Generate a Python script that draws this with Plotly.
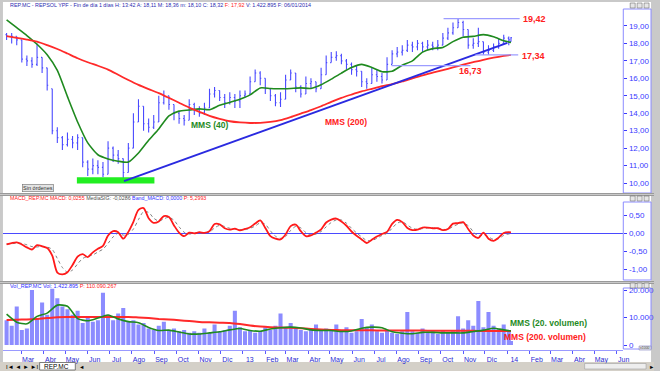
import plotly.graph_objects as go
import pandas as pd

W, H = 660, 371

# ---------------- data ----------------
week_dates = list(pd.date_range('2012-02-10', periods=100, freq='7D').strftime('%Y-%m-%d')) + ['2014-01-06']
ma_dates = list(pd.date_range('2012-02-10', periods=50, freq='14D').strftime('%Y-%m-%d')) + ['2014-01-06']

price_open = [18.5, 18.4, 18.4, 18.2, 17.1, 17.0, 16.8, 17.2, 16.6, 15.4,
              13.0, 12.6, 12.2, 12.5, 12.3, 12.6, 11.2, 10.8, 11.0, 10.9,
              10.5, 12.0, 11.6, 11.4, 10.6, 12.0, 13.5, 14.4, 13.4, 13.2,
              13.5, 14.6, 15.0, 14.5, 14.0, 13.7, 13.6, 14.5, 14.2, 14.0,
              14.3, 15.1, 15.3, 14.9, 14.6, 14.9, 14.7, 15.0, 15.1, 15.8,
              16.3, 16.0, 15.4, 15.0, 14.6, 14.8, 15.9, 16.3, 15.5, 15.1,
              15.7, 15.8, 15.4, 16.2, 16.9, 17.2, 17.3, 17.0, 16.8, 16.5,
              16.4, 15.8, 15.7, 16.2, 16.1, 15.9, 16.8, 17.4, 17.5, 17.6,
              17.9, 17.8, 18.0, 17.8, 17.9, 17.8, 17.9, 18.3, 18.6, 18.9,
              19.2, 18.8, 17.9, 18.0, 18.1, 17.5, 17.6, 17.8, 18.0, 18.3,
              18.11]
price_high = [18.6, 18.6, 18.4, 18.2, 17.3, 17.2, 18.0, 17.2, 16.6, 15.4,
              13.2, 12.7, 12.9, 12.7, 12.8, 12.6, 11.3, 11.4, 11.3, 11.2,
              12.4, 12.1, 11.9, 11.4, 12.3, 14.0, 14.8, 14.4, 13.7, 13.9,
              15.0, 15.3, 15.0, 14.5, 14.1, 13.9, 14.8, 14.6, 14.4, 14.6,
              15.4, 15.5, 15.3, 15.1, 15.2, 15.1, 15.3, 15.3, 16.1, 16.5,
              16.4, 16.0, 15.4, 15.1, 15.2, 16.2, 16.5, 16.3, 15.6, 16.1,
              16.0, 15.8, 16.6, 17.3, 17.5, 17.55, 17.4, 17.1, 16.9, 16.7,
              16.4, 16.0, 16.6, 16.5, 16.3, 17.2, 17.6, 17.8, 17.9, 18.2,
              18.1, 18.2, 18.1, 18.2, 18.1, 18.2, 18.6, 18.9, 19.2, 19.42,
              19.3, 18.8, 18.3, 18.9, 18.1, 17.9, 18.0, 18.3, 18.5, 18.4,
              18.36]
price_low = [18.2, 18.0, 17.9, 16.9, 16.7, 16.6, 16.7, 16.3, 15.3, 12.8,
             12.3, 11.9, 12.1, 12.0, 11.9, 10.9, 10.4, 10.5, 10.5, 10.35,
             10.5, 11.2, 11.1, 10.05, 10.6, 12.0, 13.5, 13.0, 12.9, 13.1,
             13.5, 14.5, 14.2, 13.6, 13.4, 13.3, 13.6, 13.9, 13.8, 13.9,
             14.3, 14.9, 14.7, 14.3, 14.5, 14.3, 14.3, 14.9, 15.1, 15.8,
             15.6, 15.1, 14.7, 14.4, 14.35, 14.8, 15.9, 15.2, 14.9, 15.1,
             15.4, 15.2, 15.4, 16.2, 16.9, 17.0, 16.8, 16.5, 16.2, 16.1,
             15.5, 15.4, 15.7, 15.8, 15.7, 15.9, 16.8, 17.2, 17.3, 17.5,
             17.5, 17.6, 17.5, 17.6, 17.6, 17.6, 17.9, 18.2, 18.5, 18.9,
             18.4, 17.7, 17.7, 17.8, 17.35, 17.35, 17.5, 17.7, 18.0, 17.9,
             18.10]
price_close = [18.4, 18.4, 18.2, 17.1, 17.0, 16.8, 17.2, 16.6, 15.6, 13.0,
               12.6, 12.2, 12.5, 12.3, 12.6, 11.2, 10.8, 11.0, 10.9, 10.5,
               12.0, 11.6, 11.4, 10.6, 12.0, 13.5, 14.4, 13.4, 13.2, 13.5,
               14.6, 15.0, 14.5, 14.0, 13.7, 13.6, 14.5, 14.2, 14.0, 14.3,
               15.1, 15.3, 14.9, 14.6, 14.9, 14.7, 15.0, 15.1, 15.8, 16.3,
               16.0, 15.4, 15.0, 14.6, 14.8, 15.9, 16.3, 15.5, 15.1, 15.7,
               15.8, 15.4, 16.2, 16.9, 17.2, 17.3, 17.0, 16.8, 16.5, 16.4,
               15.8, 15.7, 16.2, 16.1, 15.9, 16.8, 17.4, 17.5, 17.6, 17.9,
               17.8, 18.0, 17.8, 17.9, 17.8, 17.9, 18.3, 18.6, 18.9, 19.2,
               18.8, 17.9, 18.0, 18.1, 17.5, 17.6, 17.8, 18.0, 18.3, 18.2,
               18.32]

mms200 = [18.42, 18.32, 18.22, 18.10, 17.90, 17.68, 17.42, 17.15, 16.92, 16.72,
          16.50, 16.20, 15.90, 15.62, 15.38, 15.15, 14.88, 14.60, 14.32, 14.08,
          13.85, 13.68, 13.54, 13.47, 13.44, 13.45, 13.50, 13.60, 13.78, 13.98,
          14.18, 14.40, 14.65, 14.88, 15.07, 15.25, 15.40, 15.55, 15.67, 15.82,
          16.00, 16.17, 16.32, 16.47, 16.62, 16.78, 16.92, 17.06, 17.18, 17.28,
          17.34]
mms40 = [19.35, 18.90, 18.45, 17.95, 17.35, 16.45, 14.95, 13.50, 12.30, 11.62,
         11.38, 11.25, 11.20, 11.72, 12.45, 13.10, 13.85, 14.12, 14.18, 14.25,
         14.20, 14.45, 14.62, 14.80, 15.05, 15.45, 15.42, 15.40, 15.42, 15.45,
         15.42, 15.63, 15.95, 16.30, 16.62, 16.80, 16.62, 16.38, 16.40, 16.75,
         17.00, 17.50, 17.70, 17.77, 18.10, 18.35, 18.40, 18.50, 18.38, 18.15,
         18.05]

macd = [-0.31, -0.27, -0.25, -0.31, -0.39, -0.45, -0.33, -0.36, -0.41, -0.62,
        -1.09, -1.14, -1.08, -0.88, -0.65, -0.58, -0.66, -0.53, -0.43, -0.35,
        -0.06, 0.06, 0.03, -0.15, 0.04, 0.32, 0.65, 0.70, 0.42, 0.29,
        0.33, 0.48, 0.45, 0.22, 0.02, -0.08, 0.02, 0.00, 0.03, 0.01,
        0.06, 0.26, 0.25, 0.14, 0.10, 0.13, 0.08, 0.12, 0.17, 0.27,
        0.36, 0.15, -0.08, -0.15, -0.17, -0.03, 0.20, 0.24, 0.06, -0.08,
        -0.06, 0.02, 0.11, 0.30, 0.38, 0.41, 0.33, 0.21, 0.05, -0.07,
        -0.17, -0.27, -0.18, -0.09, -0.02, 0.04, 0.26, 0.37, 0.31, 0.15,
        0.09, 0.10, 0.16, 0.16, 0.14, 0.14, 0.09, 0.12, 0.27, 0.28,
        0.31, 0.12, -0.06, -0.13, 0.02, -0.15, -0.21, -0.12, 0.01, 0.03,
        0.0255]
macd_signal = [-0.30, -0.29, -0.27, -0.28, -0.32, -0.37, -0.38, -0.36, -0.38, -0.45,
               -0.70, -0.95, -1.08, -1.02, -0.85, -0.70, -0.64, -0.60, -0.52, -0.44,
               -0.28, -0.10, 0.00, -0.05, -0.03, 0.12, 0.38, 0.60, 0.58, 0.42,
               0.34, 0.40, 0.45, 0.36, 0.18, 0.03, -0.02, 0.00, 0.01, 0.02,
               0.03, 0.15, 0.22, 0.19, 0.14, 0.12, 0.10, 0.10, 0.14, 0.20,
               0.29, 0.25, 0.07, -0.08, -0.14, -0.09, 0.08, 0.19, 0.15, 0.02,
               -0.05, -0.02, 0.05, 0.18, 0.30, 0.37, 0.37, 0.28, 0.14, 0.01,
               -0.10, -0.20, -0.20, -0.14, -0.06, 0.00, 0.14, 0.28, 0.32, 0.23,
               0.14, 0.11, 0.13, 0.15, 0.15, 0.14, 0.11, 0.11, 0.19, 0.25,
               0.29, 0.21, 0.05, -0.08, -0.04, -0.10, -0.17, -0.15, -0.06, -0.02,
               -0.0286]

volume = [9000, 7000, 14000, 5500, 6000, 20000, 9500, 15500, 11000, 20500,
          17000, 14000, 13000, 11000, 12500, 8000, 10000, 8500, 9000, 19000,
          11000, 9000, 11500, 13500, 8500, 9000, 7500, 8000, 6000, 5500,
          7000, 8500, 5500, 6000, 5000, 5500, 4500, 5000, 4500, 6000,
          4500, 7500, 5000, 5500, 7000, 12500, 6500, 5000, 5500, 4500,
          5000, 6500, 5500, 7000, 11500, 6500, 8000, 6000, 5500, 5000,
          6000, 7500, 5500, 6000, 5500, 7500, 5000, 6500, 4500, 5000,
          9500, 6500, 7500, 5000, 4500, 5500, 4500, 4000, 5000, 12000,
          5000, 4500, 6000, 4500, 5000, 4000, 5500, 4500, 5000, 10500,
          6000, 9000, 7000, 16000, 6500, 12000, 7000, 6000, 7500, 5000,
          1423]
vol_mms20 = [11200, 8300, 7700, 10400, 11600, 14500, 14100, 9600, 8800, 9800,
             10900, 9500, 8500, 8100, 6400, 5300, 5400, 4700, 4000, 4000,
             4400, 4800, 5500, 6000, 5300, 5000, 5800, 6300, 6500, 6200,
             5500, 5300, 5300, 4900, 5100, 6100, 6500, 6300, 4800, 4300,
             4100, 4600, 4600, 4400, 4400, 4400, 4900, 5400, 6100, 5500,
             5100]
vol_mms200 = [9100, 9200, 9300, 9500, 9800, 10100, 10200, 10200, 10200, 10200,
              10200, 10200, 10200, 10000, 9800, 9500, 9300, 9000, 8700, 8400,
              8250, 8100, 8000, 7600, 7100, 6700, 6450, 6350, 6250, 6100,
              5850, 5600, 5450, 5400, 5380, 5350, 5330, 5300, 5300, 5280,
              5250, 5230, 5200, 5200, 5180, 5150, 5150, 5120, 5100, 5100,
              5100]

month_ticks = list(pd.date_range('2012-03-01', '2014-06-01', freq='MS').strftime('%Y-%m-%d'))
month_labels = ['Mar', 'Abr', 'May', 'Jun', 'Jul', 'Ago', 'Sep', 'Oct', 'Nov', 'Dic',
                '13', 'Feb', 'Mar', 'Abr', 'May', 'Jun', 'Jul', 'Ago', 'Sep', 'Oct',
                'Nov', 'Dic', '14', 'Feb', 'Mar', 'Abr', 'May', 'Jun']

price_ticks = [10, 11, 12, 13, 14, 15, 16, 17, 18, 19]
price_tick_labels = ['10,00', '11,00', '12,00', '13,00', '14,00', '15,00', '16,00', '17,00', '18,00', '19,00']
macd_ticks = [0.5, 0.0, -0.5, -1.0]
macd_tick_labels = ['0,50', '0,00', '-0,50', '-1,00']
vol_ticks = [0, 10000, 20000]
vol_tick_labels = ['0', '10.000', '20.000']

# ---------------- layout helpers (pixel -> paper) ----------------
def PX(x):
    return x / W

def PY(y):
    return 1 - y / H

FONT = 'Liberation Sans'
BLUE_TXT = '#3a3aff'
x_range = ['2012-02-05', '2014-06-10']
WEEK_MS = 7 * 24 * 3600 * 1000

fig = go.Figure()

# price panel
fig.add_trace(go.Ohlc(x=week_dates, open=price_open, high=price_high, low=price_low, close=price_close,
                      increasing=dict(line=dict(color='#4a4aff', width=1.1)),
                      decreasing=dict(line=dict(color='#4a4aff', width=1.1)),
                      tickwidth=0.5, xaxis='x', yaxis='y', hoverinfo='skip', showlegend=False))
fig.add_trace(go.Scatter(x=ma_dates, y=mms40, mode='lines', line=dict(color='#1f8a1f', width=1.6, shape='spline', smoothing=0.6),
                         xaxis='x', yaxis='y', showlegend=False, hoverinfo='skip'))
fig.add_trace(go.Scatter(x=ma_dates, y=mms200, mode='lines', line=dict(color='#ff2a2a', width=1.8, shape='spline', smoothing=0.6),
                         xaxis='x', yaxis='y', showlegend=False, hoverinfo='skip'))

# MACD panel
fig.add_trace(go.Scatter(x=week_dates, y=macd_signal, mode='lines', line=dict(color='#808080', width=1, dash='dot', shape='spline', smoothing=0.8),
                         xaxis='x2', yaxis='y2', showlegend=False, hoverinfo='skip'))
fig.add_trace(go.Scatter(x=week_dates, y=macd, mode='lines', line=dict(color='#ff1a1a', width=1.8, shape='spline', smoothing=0.8),
                         xaxis='x2', yaxis='y2', showlegend=False, hoverinfo='skip'))

# Volume panel
fig.add_trace(go.Bar(x=week_dates, y=volume, width=[WEEK_MS * 0.8] * len(week_dates),
                     marker=dict(color='#8c8cff', line=dict(width=0)),
                     xaxis='x3', yaxis='y3', showlegend=False, hoverinfo='skip'))
fig.add_trace(go.Scatter(x=ma_dates, y=vol_mms200, mode='lines', line=dict(color='#ff2a2a', width=2, shape='spline', smoothing=0.6),
                         xaxis='x3', yaxis='y3', showlegend=False, hoverinfo='skip'))
fig.add_trace(go.Scatter(x=ma_dates, y=vol_mms20, mode='lines', line=dict(color='#1f8a1f', width=1.6, shape='spline', smoothing=0.6),
                         xaxis='x3', yaxis='y3', showlegend=False, hoverinfo='skip'))

xdom = [PX(3), PX(629)]
common_x = dict(type='date', range=x_range, domain=xdom, showgrid=False, zeroline=False, fixedrange=True)
ytick_font = dict(family=FONT, size=8, color=BLUE_TXT)

fig.update_layout(
    width=W, height=H,
    margin=dict(l=0, r=0, t=0, b=0),
    paper_bgcolor='#c9c9c9',
    plot_bgcolor='white',
    xaxis=dict(**common_x, anchor='y', showticklabels=False, ticks='', rangeslider=dict(visible=False)),
    xaxis2=dict(**common_x, anchor='y2', matches='x', showticklabels=False, ticks=''),
    xaxis3=dict(**common_x, anchor='y3', matches='x', showticklabels=True, tickmode='array',
                tickvals=month_ticks, ticktext=month_labels, ticks='outside', ticklen=3, tickcolor='#5a5aff',
                tickfont=dict(family=FONT, size=7, color='#2a2ad0'), ticklabelshift=7, ticklabelstandoff=0,
                showline=True, linecolor='#9a9aff', linewidth=1),
    yaxis=dict(domain=[PY(193), PY(9)], range=[9.43, 19.97], side='right', anchor='x', showgrid=False, zeroline=False,
               tickmode='array', tickvals=price_ticks, ticktext=price_tick_labels, ticks='outside', ticklen=3,
               tickcolor=BLUE_TXT, tickfont=ytick_font, fixedrange=True),
    yaxis2=dict(domain=[PY(281), PY(196)], range=[-1.325, 1.036], side='right', anchor='x2', showgrid=False,
                zeroline=True, zerolinecolor='#4a4aff', zerolinewidth=1,
                tickmode='array', tickvals=macd_ticks, ticktext=macd_tick_labels, ticks='outside', ticklen=3,
                tickcolor=BLUE_TXT, tickfont=ytick_font, fixedrange=True),
    yaxis3=dict(domain=[PY(350), PY(284)], range=[-1818, 22182], side='right', anchor='x3', showgrid=False, zeroline=False,
                tickmode='array', tickvals=vol_ticks, ticktext=vol_tick_labels, ticks='outside', ticklen=3,
                tickcolor=BLUE_TXT, tickfont=ytick_font, fixedrange=True),
)

shapes = []
# white panel backgrounds
for (y0, y1) in [(2, 193), (196, 281), (283, 350), (350, 362)]:
    shapes.append(dict(type='rect', xref='paper', yref='paper', x0=PX(3), x1=PX(657), y0=PY(y1), y1=PY(y0),
                       fillcolor='white', line=dict(width=0), layer='below'))
# bottom tab bar (under everything)
shapes.append(dict(type='rect', xref='paper', yref='paper', x0=0, x1=1, y0=0, y1=PY(362),
                   fillcolor='#d4d0c8', line=dict(width=0), layer='below'))
# axis boxes
for (y0, y1) in [(9, 193), (202, 280), (288, 349)]:
    shapes.append(dict(type='rect', xref='paper', yref='paper', x0=PX(629), x1=PX(657), y0=PY(y1), y1=PY(y0),
                       fillcolor='rgba(0,0,0,0)', line=dict(color='#8c8cff', width=1), layer='above'))
# separators
for yy in [193.5, 195.5, 281.5, 283.5]:
    shapes.append(dict(type='line', xref='paper', yref='paper', x0=0, x1=1, y0=PY(yy), y1=PY(yy),
                       line=dict(color='#9a9a9a', width=1), layer='above'))
# window control icons
for yy in [3, 196, 283]:
    for xx in [636, 643, 650]:
        shapes.append(dict(type='rect', xref='paper', yref='paper', x0=PX(xx), x1=PX(xx + 5), y0=PY(yy + 5), y1=PY(yy),
                           fillcolor='#e6e6e6', line=dict(color='#707070', width=0.6), layer='above'))
# support zone (green) and trend line
shapes.append(dict(type='rect', xref='x', yref='y', x0='2012-05-17', x1='2012-09-01', y0=9.98, y1=10.33,
                   fillcolor='#22ee22', line=dict(width=0), layer='above'))
shapes.append(dict(type='line', xref='x', yref='y', x0='2012-07-21', y0=10.11, x1='2014-01-01', y1=18.03,
                   line=dict(color='#2a2ae0', width=2), layer='above'))
# horizontal levels
for (xa, xb, lv) in [('2013-10-05', '2014-01-18', 19.42), ('2013-11-18', '2014-01-16', 17.34), ('2013-07-25', '2013-11-11', 16.73)]:
    shapes.append(dict(type='line', xref='x', yref='y', x0=xa, x1=xb, y0=lv, y1=lv,
                       line=dict(color='#9c9cff', width=1.2), layer='above'))
# tab & scrollbar
shapes.append(dict(type='rect', xref='paper', yref='paper', x0=PX(40), x1=PX(76), y0=PY(370), y1=PY(362.5),
                   fillcolor='white', line=dict(color='#606060', width=0.8), layer='above'))
shapes.append(dict(type='rect', xref='paper', yref='paper', x0=PX(590), x1=PX(652), y0=PY(369), y1=PY(363.5),
                   fillcolor='#eeeeee', line=dict(color='#a0a0a0', width=0.6), layer='above'))
shapes.append(dict(type='rect', xref='paper', yref='paper', x0=PX(645), x1=PX(657), y0=PY(350), y1=PY(346),
                   fillcolor='#e8e8e8', line=dict(color='#8080c0', width=0.6), layer='above'))
fig.update_layout(shapes=shapes)

ann = []
def txt(x, y, text, size, color, bold=False, xanchor='left', xref='paper', yref='paper'):
    t = '<b>%s</b>' % text if bold else text
    ann.append(dict(x=x, y=y, xref=xref, yref=yref, text=t, showarrow=False, xanchor=xanchor, yanchor='middle',
                    font=dict(family=FONT, size=size, color=color)))

txt(PX(8), PY(5.5), "REP.MC - REPSOL YPF - Fin de día 1 días H: 13:42 A: 18,11 M: 18,36 m: 18,10 C: 18,32 "
    "<span style='color:#ff2020'>F: 17,92</span> V: 1.422.895 F: 06/01/2014", 5.4, '#2b2bb0')
txt(PX(8), PY(198.5), "MACD_REP.MC MACD: 0,0255 <span style='color:#505050'>MediaSIG: -0,0286</span> "
    "<span style='color:#3030ff'>Band_MACD: 0,0000</span> P: 5,2993", 5.3, '#ff2020')
txt(PX(8), PY(286), "Vol_REP.MC Vol: 1.422.895 <span style='color:#ff2020'>P: 110.090.267</span>", 5.5, '#3030ff')

# chart labels in data coordinates
txt('2014-02-08', 19.42, '19,42', 9, '#ff2020', True, 'center', 'x', 'y')
txt('2014-02-06', 17.27, '17,34', 9, '#ff2020', True, 'center', 'x', 'y')
txt('2013-11-11', 16.40, '16,73', 9, '#ff2020', True, 'center', 'x', 'y')
txt('2012-11-16', 13.32, 'MMS (40)', 8.5, '#1f8a1f', True, 'center', 'x', 'y')
txt('2013-05-24', 13.50, 'MMS (200)', 8.5, '#ff2020', True, 'center', 'x', 'y')
txt('2014-02-27', 8000, 'MMS (20. volumen)', 8.5, '#1f8a1f', True, 'center', 'x3', 'y3')
txt('2014-02-22', 2900, 'MMS (200. volumen)', 8.5, '#ff2020', True, 'center', 'x3', 'y3')

# button / tabs
ann.append(dict(x=PX(22), y=PY(187.5), xref='paper', yref='paper', text='Sin órdenes', showarrow=False,
                font=dict(family=FONT, size=5.5, color='#303030'), bgcolor='#e4e4e4', bordercolor='#707070',
                borderwidth=0.6, borderpad=0.5))
txt(PX(4), PY(366.5), 'I◄ ◄ ► ►I', 6, '#000000')
txt(PX(42), PY(366.3), 'REP.MC', 6.5, '#000000')
txt(PX(78), PY(366.5), '◄', 5.5, '#000000')
txt(PX(653), PY(366.5), '►', 5.5, '#000000')
txt(PX(651), PY(348), 'x1000', 3.5, '#404040', False, 'center')
fig.update_layout(annotations=ann)

fig.write_html('out.html', config={'displayModeBar': False},
               post_script="document.body.style.margin='0';document.body.style.overflow='hidden';")
